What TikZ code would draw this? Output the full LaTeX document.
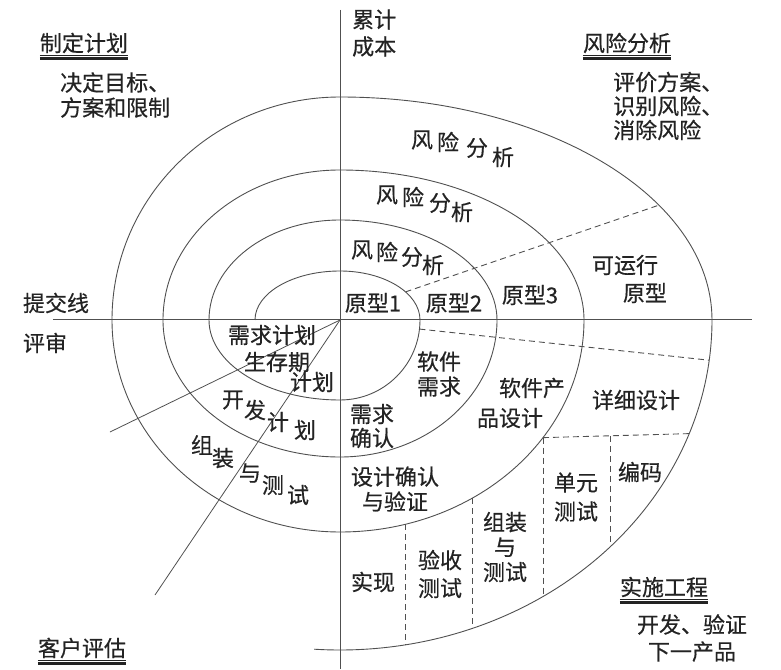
\documentclass[tikz,border=0pt]{standalone}
\usepackage{fontspec}
\newfontfamily\zhfont[FakeBold=0.5]{Noto Sans CJK SC}
\usetikzlibrary{math}
\usetikzlibrary{calc}
\definecolor{inkgray}{RGB}{35,35,35}
\definecolor{linegray}{RGB}{80,80,80}

\tikzset{
  lbl/.style={inner sep=0pt, text=inkgray, align=center,
    font=\zhfont\fontsize{22}{25}\selectfont},
  thinrule/.style={draw=inkgray, line width=0.8pt},
  thickrule/.style={draw=inkgray, line width=2.6pt},
  axisline/.style={draw=linegray, line width=1pt},
  spiralline/.style={draw=linegray, line width=0.9pt},
  phaseline/.style={draw=linegray, line width=0.8pt},
  divider/.style={draw=linegray, line width=0.9pt, dash pattern=on 6pt off 4pt},
}

\begin{document}
\begin{tikzpicture}[x=1pt,y=1pt]
  \useasboundingbox (-340,-349) rectangle (441,320);

  \tikzmath{
    % radii of the quarters: left, top, right, bottom, for each turn
    \lA = 85;  \tA = 49;  \rA = 80;  \bA = 80;
    \lB = 131; \tB = 100; \rB = 157; \bB = 137;
    \lC = 177; \tC = 150; \rC = 244; \bC = 212;
    \lD = 228; \tD = 223; \rD = 372; \bD = 330;
    % x of the vertical dividers in the last turn
    \vxA = 65; \vxB = 132; \vxC = 203; \vxD = 270;
    \dyC = -\bC*sqrt(1-(\vxC/\rC)^2);
    \dyE = \dyC + 4;
    \dxE = \rD*sqrt(1-(\dyE/\bD)^2);
    \dyD = \dyC + 4*(\vxD-\vxC)/(\dxE-\vxC);
  }

  % axes
  \coordinate (O) at (0,0);
  \coordinate (N) at (0,310);
  \coordinate (S) at (0,-349);
  \coordinate (W) at (-287,0);
  \coordinate (E) at (412,0);
  \draw[axisline] (N) -- (S);
  \draw[axisline] (W) -- (E);

  % spiral composed out of quarter ellipses
  \draw[spiralline] (-\lA,0)
    arc[start angle=180, end angle=90,  x radius=\lA, y radius=\tA]
    arc[start angle=90,  end angle=0,   x radius=\rA, y radius=\tA]
    arc[start angle=0,   end angle=-90, x radius=\rA, y radius=\bA]
    arc[start angle=-90, end angle=-180,x radius=\lB, y radius=\bA]
    arc[start angle=180, end angle=90,  x radius=\lB, y radius=\tB]
    arc[start angle=90,  end angle=0,   x radius=\rB, y radius=\tB]
    arc[start angle=0,   end angle=-90, x radius=\rB, y radius=\bB]
    arc[start angle=-90, end angle=-180,x radius=\lC, y radius=\bB]
    arc[start angle=180, end angle=90,  x radius=\lC, y radius=\tC]
    arc[start angle=90,  end angle=0,   x radius=\rC, y radius=\tC]
    arc[start angle=0,   end angle=-90, x radius=\rC, y radius=\bC]
    arc[start angle=-90, end angle=-180,x radius=\lD, y radius=\bC]
    arc[start angle=180, end angle=90,  x radius=\lD, y radius=\tD]
    arc[start angle=90,  end angle=0,   x radius=\rD, y radius=\tD]
    arc[start angle=0,   end angle=-94, x radius=\rD, y radius=\bD];

  % phase lines out of the centre
  \coordinate (Pa) at (-230,-112);
  \coordinate (Pb) at (-185,-275);
  \draw[phaseline] (O) -- (Pa);
  \draw[phaseline] (O) -- (Pb);

  % dashed dividers
  \coordinate (Da) at ({\rA*cos(35)},{\tA*sin(35)});
  \coordinate (Db) at ({\rD*cos(31)},{\tD*sin(31)});
  \coordinate (Dc) at ({\rA*cos(-6.5)},{\bA*sin(-6.5)});
  \coordinate (Dd) at ({\rD*cos(-7)},{\bD*sin(-7)});
  \coordinate (Ea) at (\vxC,\dyC);
  \coordinate (Eb) at (\dxE,\dyE);
  \draw[divider] (Da) -- (Db);
  \draw[divider] (Dc) -- (Dd);
  \draw[divider] (Ea) -- (Eb);

  \coordinate (Va) at (\vxA,{-\bC*sqrt(1-(\vxA/\rC)^2)});
  \coordinate (Vb) at (\vxB,{-\bC*sqrt(1-(\vxB/\rC)^2)});
  \coordinate (Vd) at (\vxD,\dyD);
  \coordinate (Wa) at (\vxA,{-\bD*sqrt(1-(\vxA/\rD)^2)});
  \coordinate (Wb) at (\vxB,{-\bD*sqrt(1-(\vxB/\rD)^2)});
  \coordinate (Wc) at (\vxC,{-\bD*sqrt(1-(\vxC/\rD)^2)});
  \coordinate (Wd) at (\vxD,{-\bD*sqrt(1-(\vxD/\rD)^2)});
  \draw[divider] (Va) -- (Wa);
  \draw[divider] (Vb) -- (Wb);
  \draw[divider] (Ea) -- (Wc);
  \draw[divider] (Vd) -- (Wd);

  % quadrant headings, underlined by a thin and a thick rule
  \node[lbl] (plan) at (-256,277) {制定计划};
  \node[lbl] (risk) at (287,277) {风险分析};
  \node[lbl] (client) at (-258,-328) {客户评估};
  \node[lbl] (build) at (324,-267) {实施工程};
  \foreach \h in {plan, risk, client, build} {
    \draw[thinrule] ($(\h.south west)+(0,-1.5)$) -- ($(\h.south east)+(0,-1.5)$);
    \draw[thickrule] ($(\h.south west)+(0,-5)$) -- ($(\h.south east)+(0,-5)$);
  }

  \node[lbl, anchor=west, align=left] (plantxt) at (-280,225) {决定目标、\\方案和限制};
  \node[lbl, anchor=west, align=left, font=\zhfont\fontsize{22}{24}\selectfont]
    (risktxt) at (273,214) {评价方案、\\识别风险、\\消除风险};
  \node[lbl, font=\zhfont\fontsize{22}{27}\selectfont] (buildtxt) at (352,-318) {开发、验证\\下一产品};

  % axis labels
  \node[lbl, anchor=west, align=left, font=\zhfont\fontsize{22}{27}\selectfont]
    (cost) at (12,287) {累计\\成本};
  \node[lbl] (submit) at (-284,17) {提交线};
  \node[lbl] (review) at (-295,-23) {评审};

  % risk analysis, one per turn
  \foreach \ch/\x/\y [count=\i] in {风/82/180, 险/108/178, 分/137/172, 析/163/163}
    \node[lbl] (riskD\i) at (\x,\y) {\ch};
  \foreach \ch/\x/\y [count=\i] in {风/47/125, 险/73/123, 分/100/117, 析/122/108}
    \node[lbl] (riskC\i) at (\x,\y) {\ch};
  \foreach \ch/\x/\y [count=\i] in {风/22/70, 险/47/68, 分/72/63, 析/93/55}
    \node[lbl] (riskB\i) at (\x,\y) {\ch};

  % prototypes
  \node[lbl] (protoA) at (33,17) {原型1};
  \node[lbl] (protoB) at (114,17) {原型2};
  \node[lbl] (protoC) at (190,25) {原型3};
  \node[lbl] (runA) at (285,55) {可运行};
  \node[lbl] (runB) at (305,27) {原型};

  % planning
  \node[lbl] (reqplanA) at (-68,-15) {需求计划};
  \node[lbl] (reqplanB) at (-63,-42) {生存期};
  \node[lbl] (reqplanC) at (-28,-62) {计划};
  \foreach \ch/\x/\y [count=\i] in {开/-107/-80, 发/-85/-90, 计/-62/-102, 划/-35/-110}
    \node[lbl] (devplan\i) at (\x,\y) {\ch};
  \foreach \ch/\x/\y [count=\i] in {组/-138/-125, 装/-117/-138, 与/-90/-153, 测/-67/-165, 试/-42/-175}
    \node[lbl] (intplan\i) at (\x,\y) {\ch};

  % engineering
  \node[lbl, font=\zhfont\fontsize{22}{24}\selectfont] (reqcheck) at (32,-106) {需求\\确认};
  \node[lbl] (softreq) at (99,-54) {软件\\需求};
  \node[lbl] (prodA) at (192,-68) {软件产};
  \node[lbl] (prodB) at (170,-98) {品设计};
  \node[lbl] (detail) at (296,-80) {详细设计};
  \node[lbl] (descheck) at (55,-169) {设计确认\\与验证};
  \node[lbl] (code) at (300,-152) {编码};
  \node[lbl, font=\zhfont\fontsize{22}{29}\selectfont] (unit) at (236,-177) {单元\\测试};
  \node[lbl] (integ) at (165,-227) {组装\\与\\测试};
  \node[lbl, font=\zhfont\fontsize{22}{28}\selectfont] (accept) at (100,-254) {验收\\测试};
  \node[lbl] (impl) at (33,-262) {实现};

\end{tikzpicture}
\end{document}
